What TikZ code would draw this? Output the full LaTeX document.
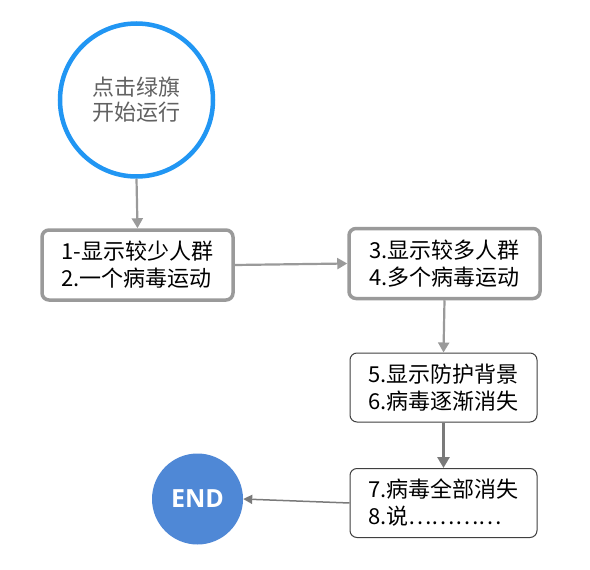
\documentclass[tikz,border=0pt]{standalone}
\usepackage{fontspec}
\setmainfont{Noto Sans CJK SC}
\newfontfamily\cjk{Noto Sans CJK SC}
\usetikzlibrary{arrows.meta}
\definecolor{topblue}{HTML}{2196F3}
\definecolor{endblue}{HTML}{4F88D6}
\definecolor{linegray}{HTML}{9A9A9A}
\definecolor{darkgray2}{HTML}{7A7A7A}
\begin{document}
\begin{tikzpicture}[x=1pt,y=-1pt,
  txt/.style={font=\cjk\fontsize{22}{27}\selectfont, align=left},
  thickbox/.style={draw=linegray, line width=3.5pt, rounded corners=7pt, fill=white, minimum width=191pt, minimum height=70pt, txt},
  thinbox/.style={draw=black!75, line width=1pt, rounded corners=7pt, fill=white, minimum width=187pt, minimum height=69pt, txt},
  arr/.style={draw=linegray, line width=2.2pt, -{Triangle[width=11pt,length=10pt]}},
  arrd/.style={draw=darkgray2, line width=2.8pt, -{Triangle[width=12pt,length=11pt]}},
  arrt/.style={draw=darkgray2, line width=1.5pt, -{Triangle[width=9pt,length=9pt]}}
]
\useasboundingbox (0,0) rectangle (590,570);
\node[circle, draw=topblue, line width=4.5pt, minimum size=153pt, fill=white,
  font=\cjk\fontsize{22}{25}\selectfont, text=black!62, align=center] (start) at (136.5,100) {点击绿旗\\开始运行};
\node[thickbox] (b1) at (137.5,265) {1-显示较少人群\\2.一个病毒运动};
\node[thickbox] (b2) at (444.5,263.5) {3.显示较多人群\\4.多个病毒运动};
\node[thinbox] (b3) at (443.5,387.5) {5.显示防护背景\\6.病毒逐渐消失};
\node[thinbox] (b4) at (443.5,503) {7.病毒全部消失\\8.说…………};
\node[circle, fill=endblue, minimum size=91pt, text=white,
  font=\fontspec{Open Sans}\fontsize{25}{28}\selectfont\bfseries] (end) at (197.5,499) {END};
\draw[arr] (start.south) -- (b1.north);
\draw[arr] (b1.east) -- (b2.west);
\draw[arr] (b2.south) -- (b3.north);
\draw[arrd] (b3.south) -- (b4.north);
\draw[arrt] (b4.west) -- (end.east);
\end{tikzpicture}
\end{document}
